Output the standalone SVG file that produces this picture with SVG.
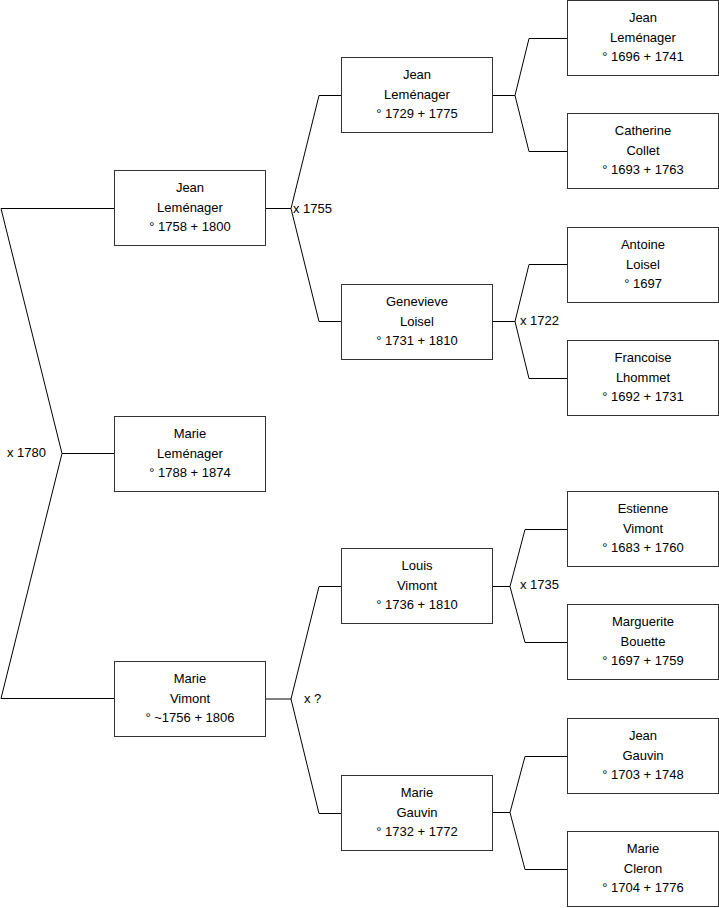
<svg xmlns="http://www.w3.org/2000/svg" width="719" height="908" viewBox="0 0 719 908">
<style>
.box{fill:#fff;stroke:#333;stroke-width:1}
.t{font-family:"Liberation Sans",Arial,sans-serif;font-size:13px;fill:#000;text-anchor:middle}
.l{font-family:"Liberation Sans",Arial,sans-serif;font-size:13px;fill:#000}
.c{fill:none;stroke:#000;stroke-width:1}
</style>
<rect width="719" height="908" fill="#fff"/>
<g id="connectors">
<polyline class="c" points="114.5,208.5 1,208.5 62,453.5 1,698.5 114.5,698.5"/>
<line class="c" x1="62" y1="453.5" x2="114.5" y2="453.5"/>
<line class="c" x1="265.5" y1="208.5" x2="291" y2="208.5"/>
<polyline class="c" points="341.5,95.5 319,95.5 291,208.5 319,321.5 341.5,321.5"/>
<line class="c" x1="265.5" y1="699" x2="291" y2="699"/>
<polyline class="c" points="341.5,586.5 319,586.5 291,699 319,813.5 341.5,813.5"/>
<line class="c" x1="491.5" y1="95.5" x2="515" y2="95.5"/>
<polyline class="c" points="567.5,38.5 529,38.5 515,95.5 529,151.5 567.5,151.5"/>
<line class="c" x1="491.5" y1="321.5" x2="515" y2="321.5"/>
<polyline class="c" points="567.5,264.5 529,264.5 515,321.5 529,378.5 567.5,378.5"/>
<line class="c" x1="491.5" y1="586.5" x2="510" y2="586.5"/>
<polyline class="c" points="567.5,529.5 525,529.5 510,586.5 525,642.5 567.5,642.5"/>
<line class="c" x1="491.5" y1="812.5" x2="510" y2="812.5"/>
<polyline class="c" points="567.5,756.5 525,756.5 510,812.5 525,869.5 567.5,869.5"/>
<text class="l" x="7" y="457">x 1780</text>
<text class="l" x="293" y="213">x 1755</text>
<text class="l" x="304" y="703">x ?</text>
<text class="l" x="520" y="325">x 1722</text>
<text class="l" x="520" y="588.5">x 1735</text>
</g>
<g id="n1"><rect class="box" x="114.5" y="170.5" width="151" height="75"/><text class="t" x="190" y="192">Jean</text><text class="t" x="190" y="211.5">Leménager</text><text class="t" x="190" y="231">° 1758 + 1800</text></g>
<g id="n2"><rect class="box" x="114.5" y="416.5" width="151" height="75"/><text class="t" x="190" y="438">Marie</text><text class="t" x="190" y="457.5">Leménager</text><text class="t" x="190" y="477">° 1788 + 1874</text></g>
<g id="n3"><rect class="box" x="114.5" y="661.5" width="151" height="75"/><text class="t" x="190" y="683">Marie</text><text class="t" x="190" y="702.5">Vimont</text><text class="t" x="190" y="722">° ~1756 + 1806</text></g>
<g id="n4"><rect class="box" x="341.5" y="57.5" width="151" height="75"/><text class="t" x="417" y="79">Jean</text><text class="t" x="417" y="98.5">Leménager</text><text class="t" x="417" y="118">° 1729 + 1775</text></g>
<g id="n5"><rect class="box" x="341.5" y="284.5" width="151" height="75"/><text class="t" x="417" y="306">Genevieve</text><text class="t" x="417" y="325.5">Loisel</text><text class="t" x="417" y="345">° 1731 + 1810</text></g>
<g id="n6"><rect class="box" x="341.5" y="548.5" width="151" height="75"/><text class="t" x="417" y="570">Louis</text><text class="t" x="417" y="589.5">Vimont</text><text class="t" x="417" y="609">° 1736 + 1810</text></g>
<g id="n7"><rect class="box" x="341.5" y="775.5" width="151" height="75"/><text class="t" x="417" y="797">Marie</text><text class="t" x="417" y="816.5">Gauvin</text><text class="t" x="417" y="836">° 1732 + 1772</text></g>
<g id="n8"><rect class="box" x="567.5" y="0.5" width="151" height="75"/><text class="t" x="643" y="22">Jean</text><text class="t" x="643" y="41.5">Leménager</text><text class="t" x="643" y="61">° 1696 + 1741</text></g>
<g id="n9"><rect class="box" x="567.5" y="113.5" width="151" height="75"/><text class="t" x="643" y="135">Catherine</text><text class="t" x="643" y="154.5">Collet</text><text class="t" x="643" y="174">° 1693 + 1763</text></g>
<g id="n10"><rect class="box" x="567.5" y="227.5" width="151" height="75"/><text class="t" x="643" y="249">Antoine</text><text class="t" x="643" y="268.5">Loisel</text><text class="t" x="643" y="288">° 1697</text></g>
<g id="n11"><rect class="box" x="567.5" y="340.5" width="151" height="75"/><text class="t" x="643" y="362">Francoise</text><text class="t" x="643" y="381.5">Lhommet</text><text class="t" x="643" y="401">° 1692 + 1731</text></g>
<g id="n12"><rect class="box" x="567.5" y="491.5" width="151" height="75"/><text class="t" x="643" y="513">Estienne</text><text class="t" x="643" y="532.5">Vimont</text><text class="t" x="643" y="552">° 1683 + 1760</text></g>
<g id="n13"><rect class="box" x="567.5" y="604.5" width="151" height="75"/><text class="t" x="643" y="626">Marguerite</text><text class="t" x="643" y="645.5">Bouette</text><text class="t" x="643" y="665">° 1697 + 1759</text></g>
<g id="n14"><rect class="box" x="567.5" y="718.5" width="151" height="75"/><text class="t" x="643" y="740">Jean</text><text class="t" x="643" y="759.5">Gauvin</text><text class="t" x="643" y="779">° 1703 + 1748</text></g>
<g id="n15"><rect class="box" x="567.5" y="831.5" width="151" height="75"/><text class="t" x="643" y="853">Marie</text><text class="t" x="643" y="872.5">Cleron</text><text class="t" x="643" y="892">° 1704 + 1776</text></g>
</svg>
